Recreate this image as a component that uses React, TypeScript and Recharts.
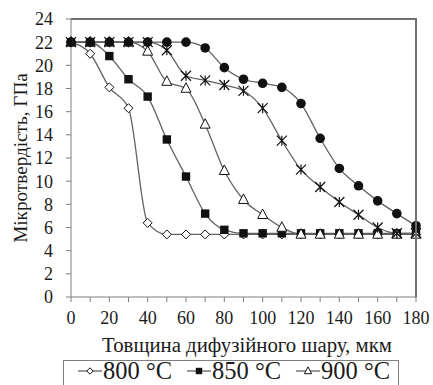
import { LineChart, Line, XAxis, YAxis, Legend } from "recharts"

const thickness = [0, 10, 20, 30, 40, 50, 60, 70, 80, 90, 100, 110, 120, 130, 140, 150, 160, 170, 180]

const hv800 = [22, 21, 18.1, 16.3, 6.4, 5.4, 5.4, 5.4, 5.4, 5.4, 5.4, 5.4, 5.4, 5.4, 5.4, 5.4, 5.4, 5.4, 5.4]
const hv850 = [22, 22, 20.8, 18.8, 17.3, 13.6, 10.4, 7.2, 5.8, 5.5, 5.5, 5.5, 5.5, 5.5, 5.5, 5.5, 5.5, 5.5, 5.5]
const hv900 = [22, 22, 22, 22, 21.2, 18.6, 18.0, 14.9, 10.9, 8.4, 7.1, 6.0, 5.4, 5.4, 5.4, 5.4, 5.4, 5.4, 5.4]
const hv950 = [22, 22, 22, 22, 22, 21.3, 19.1, 18.7, 18.3, 17.8, 16.3, 13.5, 11.0, 9.5, 8.2, 7.1, 6.0, 5.5, 5.5]
const hv1000 = [22, 22, 22, 22, 22, 22, 22, 21.5, 19.8, 18.8, 18.45, 18.1, 16.7, 13.7, 11.1, 9.6, 8.3, 7.2, 6.15]

const yTicks = [0, 2, 4, 6, 8, 10, 12, 14, 16, 18, 20, 22, 24]

const data = thickness.map((x, i) => ({
  x,
  t800: hv800[i],
  t850: hv850[i],
  t900: hv900[i],
  t950: hv950[i],
  t1000: hv1000[i],
}))

const FONT = "Liberation Serif, Liberation Sans, serif"
const AXIS = "#7f7f7f"
const LINE = "#626262"
const TEXT = "#1a1a1a"

type Kind = "diamond" | "square" | "triangle" | "star" | "circle"

function marker(kind: Kind, cx: number, cy: number, s: number, key?: string | number) {
  switch (kind) {
    case "diamond":
      return (
        <path key={key} d={`M${cx},${cy - s}L${cx + s},${cy}L${cx},${cy + s}L${cx - s},${cy}Z`} fill="#fff" stroke="#111" strokeWidth={1} />
      )
    case "square":
      return <rect key={key} x={cx - s} y={cy - s} width={2 * s} height={2 * s} fill="#111" />
    case "triangle":
      return (
        <path key={key} d={`M${cx},${cy - s * 1.15}L${cx + s},${cy + s * 0.75}L${cx - s},${cy + s * 0.75}Z`} fill="#fff" stroke="#111" strokeWidth={1} />
      )
    case "star":
      return (
        <path
          key={key}
          d={`M${cx},${cy - s}L${cx},${cy + s}M${cx - s},${cy - s}L${cx + s},${cy + s}M${cx - s},${cy + s}L${cx + s},${cy - s}`}
          stroke="#111"
          strokeWidth={1.2}
          fill="none"
        />
      )
    default:
      return <circle key={key} cx={cx} cy={cy} r={s} fill="#111" />
  }
}

const sizes: Record<Kind, number> = { diamond: 4.5, square: 4.2, triangle: 5, star: 5, circle: 4.8 }

const dotFor = (kind: Kind) => (p: any) => marker(kind, p.cx, p.cy, sizes[kind], p.index)

const series: { key: string; name: string; kind: Kind; legend: boolean }[] = [
  { key: "t800", name: "800 °C", kind: "diamond", legend: true },
  { key: "t850", name: "850 °C", kind: "square", legend: true },
  { key: "t900", name: "900 °C", kind: "triangle", legend: true },
  { key: "t950", name: "950 °C", kind: "star", legend: false },
  { key: "t1000", name: "1000 °C", kind: "circle", legend: false },
]

function LegendBox() {
  const items = series.filter((s) => s.legend)
  return (
    <div
      style={{
        border: `1.5px solid ${AXIS}`,
        height: 60,
        boxSizing: "border-box",
        display: "flex",
        alignItems: "flex-start",
        gap: 15,
        paddingLeft: 14,
        fontFamily: FONT,
        fontSize: 24.5,
        color: TEXT,
      }}
    >
      {items.map((s) => (
        <div key={s.key} style={{ display: "flex", alignItems: "center", lineHeight: "20px", height: 20 }}>
          <svg width={24} height={14} style={{ marginRight: 1 }}>
            <line x1={0} y1={7} x2={24} y2={7} stroke={LINE} strokeWidth={1.3} />
            {marker(s.kind, 12, 7, s.kind === "triangle" ? 3.6 : 3.2)}
          </svg>
          <span>{s.name}</span>
        </div>
      ))}
    </div>
  )
}

const YLabel = (props: any) => {
  const { viewBox } = props
  const cy = viewBox.y + viewBox.height / 2
  const cx = 20
  return (
    <text x={cx} y={cy} transform={`rotate(-90 ${cx} ${cy})`} textAnchor="middle" dominantBaseline="central" fontFamily={FONT} fontSize={19.2} fill={TEXT}>
      Мікротвердість, ГПа
    </text>
  )
}

const XLabel = () => (
  <text x={247} y={344} textAnchor="middle" dominantBaseline="central" fontFamily={FONT} fontSize={20.8} fill={TEXT}>
    Товщина дифузійного шару, мкм
  </text>
)

export default function App() {
  return (
    <div style={{ position: "absolute", left: 0, top: 0, width: 433, height: 385, overflow: "hidden", background: "#fff" }}>
      <LineChart width={433} height={385} data={data} margin={{ top: 19, right: 17, bottom: 0, left: 0 }}>
        <XAxis
          dataKey="x"
          type="number"
          domain={[0, 180]}
          ticks={thickness}
          tickFormatter={(v: number) => (v % 20 === 0 ? String(v) : "")}
          interval={0}
          height={48}
          stroke={AXIS}
          tickSize={5}
          tickMargin={9}
          tick={{ fontFamily: FONT, fontSize: 18, fill: TEXT }}
          label={<XLabel />}
        />
        <YAxis
          type="number"
          domain={[0, 24]}
          ticks={yTicks}
          interval={0}
          width={71}
          stroke={AXIS}
          tickSize={5}
          tickMargin={13}
          tick={{ fontFamily: FONT, fontSize: 18, fill: TEXT }}
          label={<YLabel />}
        />
        <Legend
          content={() => <LegendBox />}
          wrapperStyle={{ top: 360, left: 63, width: 336, height: 40, bottom: "auto" }}
        />
        {series.map((s) => (
          <Line
            key={s.key}
            dataKey={s.key}
            name={s.name}
            type="monotone"
            stroke={LINE}
            strokeWidth={1.3}
            dot={dotFor(s.kind)}
            activeDot={false}
            isAnimationActive={false}
          />
        ))}
      </LineChart>
      {/* plot frame: top and right edges */}
      <div
        style={{
          position: "absolute",
          left: 71,
          top: 18,
          width: 346,
          height: 279,
          borderTop: "2px solid #707070",
          borderRight: "2px solid #707070",
          boxSizing: "border-box",
          pointerEvents: "none",
        }}
      />
    </div>
  )
}
